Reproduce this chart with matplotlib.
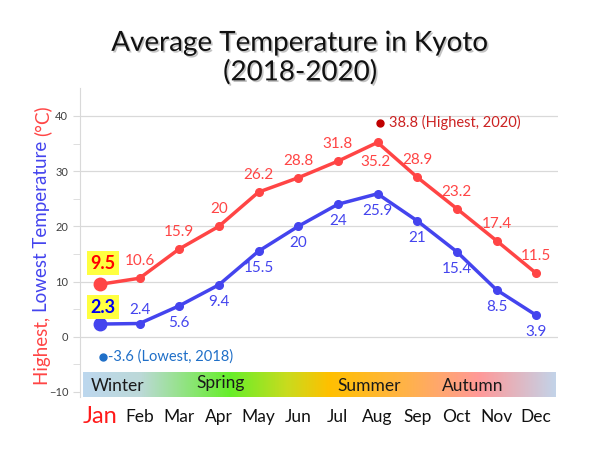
import matplotlib
matplotlib.use("Agg")
import matplotlib.pyplot as plt
import matplotlib.patheffects as pe
from matplotlib.colors import LinearSegmentedColormap
import numpy as np

plt.rcParams['font.family'] = ['Lato', 'DejaVu Sans']

months = ["Jan", "Feb", "Mar", "Apr", "May", "Jun", "Jul", "Aug", "Sep", "Oct", "Nov", "Dec"]
high = [9.5, 10.6, 15.9, 20, 26.2, 28.8, 31.8, 35.2, 28.9, 23.2, 17.4, 11.5]
low = [2.3, 2.4, 5.6, 9.4, 15.5, 20, 24, 25.9, 21, 15.4, 8.5, 3.9]
record_high = 38.8
record_high_month = 7
record_high_text = "38.8 (Highest, 2020)"
record_low = -3.6
record_low_month = 0
record_low_text = "-3.6 (Lowest, 2018)"
seasons = ["Winter", "Spring", "Summer", "Autumn"]
season_pos = [0.45, 3.05, 6.8, 9.4]
yticks = [-10, 0, 10, 20, 30, 40]

RED = "#ff4545"
BLUE = "#4444ee"

fig = plt.figure(figsize=(6, 4.5), dpi=100)
ax = fig.add_axes([80/600, 0.1167, 478/600, 0.687])
x = np.arange(len(months))
ax.set_xlim(-0.5, 11.55)
ax.set_ylim(-11, 45)

# grid
for yv in yticks:
    if yv > -10:
        ax.axhline(yv, color="#d9d9d9", lw=0.9, zorder=0)
for s in ["top", "right", "bottom"]:
    ax.spines[s].set_visible(False)
ax.spines["left"].set_color("#d9d9d9")
ax.set_yticks(yticks)
ax.set_yticks([-5, 5, 15, 25, 35], minor=True)
ax.tick_params(axis="y", which="both", length=5, color="#d9d9d9", labelsize=8, labelcolor="#404040")
ax.set_xticks(x)
ax.set_xticklabels(months, fontsize=12.5, color="#111111", va="center")
ax.tick_params(axis="x", length=0, pad=14)
lbls = ax.get_xticklabels()
lbls[0].set_color("#ff1a1a")
lbls[0].set_fontsize(17)

# season band
cmap = LinearSegmentedColormap.from_list("season", [
    (0.0, "#bdd7ee"), (0.12, "#bcd9d8"), (0.31, "#66ee2a"), (0.43, "#c8dc1e"),
    (0.52, "#ffc000"), (0.68, "#ffb347"), (0.84, "#ff9999"), (1.0, "#c3d3e8")])
grad = np.linspace(0, 1, 256).reshape(1, -1)
ax.imshow(grad, cmap=cmap, aspect="auto", extent=[-0.42, 11.48, -11, -6.6], zorder=1)
for s, p in zip(seasons, season_pos):
    dy = 0.4 if s == "Spring" else -0.3
    ax.text(p, -8.7 + dy, s, fontsize=12.5, color="#1a1a1a", ha="center", va="center", zorder=2)

# lines
ax.plot(x, high, color=RED, lw=2.5, marker="o", ms=5.5, zorder=3)
ax.plot(x, low, color=BLUE, lw=2.5, marker="o", ms=5.5, zorder=3)
ax.plot(x[0], high[0], "o", color=RED, ms=9, zorder=4)
ax.plot(x[0], low[0], "o", color=BLUE, ms=9, zorder=4)

# labels
for i in range(1, 12):
    dyh = -20 if i == 7 else 17
    dxh = -2 if i == 7 else 0
    ax.annotate(f"{high[i]:g}", (x[i], high[i]), textcoords="offset pixels",
                xytext=(dxh, dyh), ha="center", va="center", fontsize=11, color=RED)
    dyl = 14 if i == 1 else -17
    ax.annotate(f"{low[i]:g}", (x[i], low[i]), textcoords="offset pixels",
                xytext=(0, dyl), ha="center", va="center", fontsize=11, color=BLUE)

box = dict(boxstyle="square,pad=0.2", fc="#ffff40", ec="none")
ax.annotate(f"{high[0]:g}", (x[0], high[0]), textcoords="offset pixels", xytext=(3, 21),
            ha="center", va="center", fontsize=13, fontweight="bold", color="#ff0000", bbox=box, zorder=5)
ax.annotate(f"{low[0]:g}", (x[0], low[0]), textcoords="offset pixels", xytext=(3, 17),
            ha="center", va="center", fontsize=13, fontweight="bold", color="#0000ee", bbox=box, zorder=5)

# records
ax.plot(record_high_month + 0.07, record_high, "o", color="#c00000", ms=5, zorder=4)
ax.annotate(record_high_text, (record_high_month + 0.07, record_high), textcoords="offset pixels",
            xytext=(9, 0), ha="left", va="center", fontsize=10.5, color="#cc2222")
ax.plot(record_low_month + 0.07, record_low, "o", color="#1f6fc8", ms=5, zorder=4)
ax.annotate(record_low_text, (record_low_month + 0.07, record_low), textcoords="offset pixels",
            xytext=(5, 0), ha="left", va="center", fontsize=10.5, color="#1f6fc8")

# title
fig.text(0.5, 0.872, "Average Temperature in Kyoto\n(2018-2020)", ha="center", va="center",
         fontsize=20, color="#111111", linespacing=1.12,
         path_effects=[pe.SimplePatchShadow(offset=(1.2, -1.2), shadow_rgbFace="#888888", alpha=0.5), pe.Normal()])

# multi-coloured y label
t = fig.text(42/600, 1 - 385/450, "Highest, ", rotation=90, ha="center", va="bottom",
             fontsize=13.5, color=RED)
t2 = ax.annotate("Lowest Temperature ", xy=(0.5, 1), xycoords=t, ha="center", va="bottom",
                 rotation=90, fontsize=13.5, color=BLUE, annotation_clip=False)
t3 = ax.annotate("(°C)", xy=(0.5, 1), xycoords=t2, ha="center", va="bottom",
                 rotation=90, fontsize=13.5, color=RED, annotation_clip=False)

fig.savefig("out.png", dpi=100)
